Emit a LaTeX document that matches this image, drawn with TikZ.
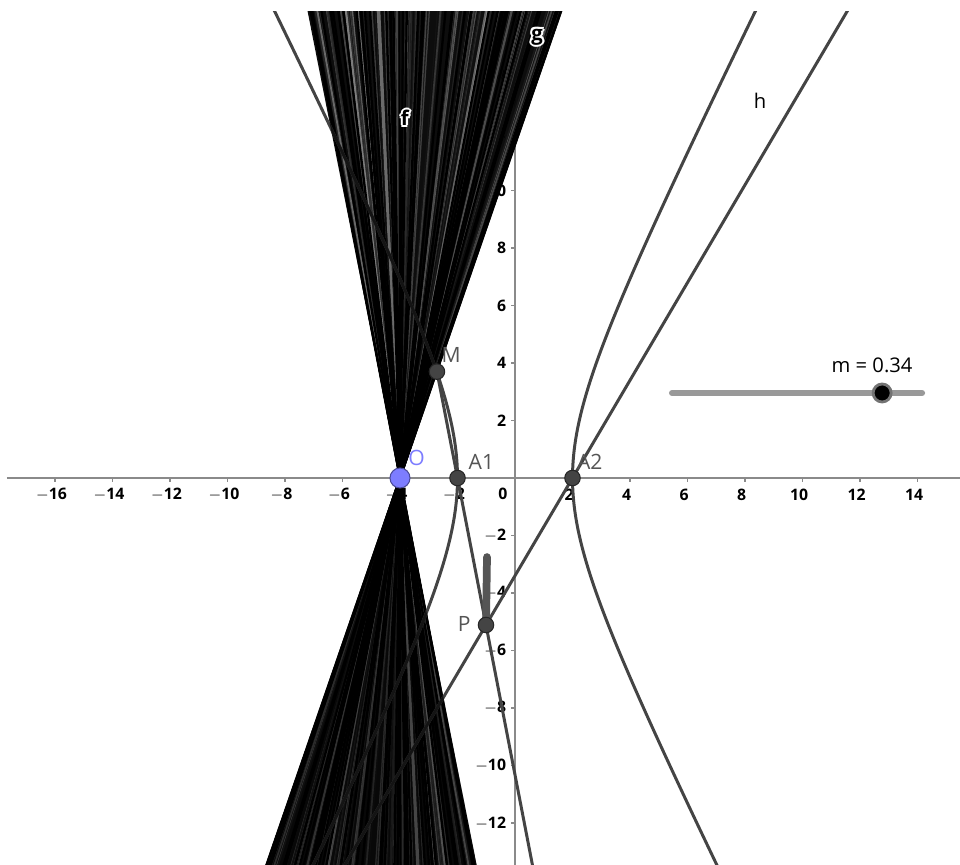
\documentclass[tikz,border=0pt]{standalone}
\usepackage{fontspec}
\setmainfont{Open Sans}
\usetikzlibrary{calc,arrows.meta}
\definecolor{curvecol}{HTML}{444444}
\definecolor{axiscol}{HTML}{8A8A8A}
\definecolor{ptblue}{HTML}{7D7DFF}
\definecolor{lblgrey}{HTML}{555555}
\definecolor{slidercol}{HTML}{999999}
\tikzset{
  curve/.style={draw=curvecol, line width=1.7pt},
  curvedark/.style={draw=black!92, line width=1.7pt},
  axisline/.style={draw=axiscol, line width=0.8pt},
  ticklbl/.style={font=\fontsize{9}{10}\selectfont\bfseries, text=black, inner sep=0pt},
  ptlbl/.style={font=\fontsize{12}{14}\selectfont, text=lblgrey, inner sep=0pt},
  pt/.style={circle, fill=curvecol, draw=black!85, line width=0.6pt, minimum size=0.31cm, inner sep=0pt},
  halolbl/.style={font=\fontsize{11.5}{13}\selectfont\bfseries, inner sep=0pt},
}
\newcommand\halolabel[3]{%
  \foreach \aa in {0,45,...,315}{\node[halolbl, text=white, shift={(\aa:1.2pt)}] at (#1) {#2};}
  \node[halolbl, text=black] (#3) at (#1) {#2};}
\newcommand\curveset[1]{%
  \draw[#1] plot[domain=-2.25:2.25, samples=140, variable=\t] ({2*cosh(\t)},{4*sinh(\t)});
  \draw[#1] plot[domain=-2.25:2.25, samples=140, variable=\t] ({-2*cosh(\t)},{4*sinh(\t)});
  \draw[#1] (Mc) -- ($(Mc)!3.2!(Pc)$);
  \draw[#1] ($(A2c)!-4!(Pc)$) -- ($(A2c)!4!(Pc)$);}
\begin{document}
\begin{tikzpicture}[x=0.575cm, y=0.575cm]
\useasboundingbox (-17.913,-13.426) rectangle (15.478,16.626);
\fill[white] (-17.913,-13.426) rectangle (15.478,16.626);
\clip (-17.913,-13.426) rectangle (15.478,16.21);

% named points
\coordinate (O) at (-4,0);
\coordinate (A1c) at (-2,0);
\coordinate (A2c) at (2,0);
\coordinate (Mc) at (-2.715,3.70);
\coordinate (Pc) at (-1.009,-5.113);

% axes
\coordinate (xl) at (-17.67,0);
\coordinate (xr) at (15.6,0);
\coordinate (yb) at (0,-13.6);
\coordinate (yt) at (0,16.1);
\draw[axisline] (xl) -- (xr);
\draw[axisline, -{Stealth[length=5pt,width=5pt]}] (yb) -- (yt);
\foreach \v in {-16,-14,...,-2,2,4,...,14}{
  \draw[axiscol, line width=0.7pt] (\v,0) -- (\v,-0.14);
  \node[ticklbl] at (\v-0.12,-0.58) {$\mathbf{\v}$};
}
\foreach \v in {-12,-10,...,-2,2,4,...,14}{
  \draw[axiscol, line width=0.7pt] (0,\v) -- (-0.14,\v);
  \node[ticklbl, anchor=east] at (-0.3,\v) {$\mathbf{\v}$};
}
\node[ticklbl] (zero) at (-0.42,-0.55) {$\mathbf{0}$};

% fan of lines through O
\fill[black, opacity=0.95] (O) -- +(70.85:30) -- +(101.2:30) -- cycle;
\fill[black, opacity=0.95] (O) -- +(250.85:30) -- +(281.2:30) -- cycle;
\pgfmathsetseed{11}
\foreach \i in {1,...,190}{
  \pgfmathsetmacro\ang{70.95+30.1*rnd}
  \pgfmathsetmacro\sh{int(5+50*rnd*rnd)}
  \pgfmathsetmacro\lw{0.3+1.0*rnd}
  \draw[line width=\lw pt, white!\sh!black] (O) ++(\ang:30) -- ++(\ang:-60);
}
\foreach \i in {1,...,45}{
  \pgfmathsetmacro\ang{70.95+30.1*rnd}
  \draw[line width=1.3pt, black] (O) ++(\ang:30) -- ++(\ang:-60);
}
% lower part of the fan a little darker
\fill[black, opacity=0.35] (O) -- +(250.85:30) -- +(281.2:30) -- cycle;

% curves: grey outside the fan, almost black inside it
\curveset{curve}
\begin{scope}
  \clip (O) -- +(70.85:30) -- +(101.2:30) -- cycle (O) -- +(250.85:30) -- +(281.2:30) -- cycle;
  \curveset{curvedark}
\end{scope}

% trace segment near P
\coordinate (tr) at (-0.974,-2.75);
\draw[draw=lblgrey, line width=4.4pt, line cap=round] (tr) -- (Pc);

% points
\node[pt] (A1) at (A1c) {};
\node[pt] (A2) at (A2c) {};
\node[pt] (M) at (Mc) {};
\node[pt] (P) at (Pc) {};
\node[circle, fill=ptblue, draw=ptblue!60!black, line width=0.6pt, minimum size=0.4cm, inner sep=0pt] (Opt) at (O) {};

% labels
\node[ptlbl, text=ptblue] (Olbl) at (-3.42,0.68) {O};
\node[ptlbl] (A1lbl) at (-1.17,0.56) {A1};
\node[ptlbl] (A2lbl) at (2.6,0.56) {A2};
\node[ptlbl] (Mlbl) at (-2.22,4.28) {M};
\node[ptlbl] (Plbl) at (-1.77,-5.08) {P};
\node[font=\fontsize{11.5}{13}\selectfont, inner sep=0pt] (hlbl) at (8.52,13.11) {h};
\halolabel{-3.83,12.52}{f}{flbl}
\halolabel{0.77,15.34}{g}{glbl}

% slider
\coordinate (s1) at (5.46,2.957);
\coordinate (s2) at (14.16,2.957);
\draw[draw=slidercol, line width=3.4pt, line cap=round] (s1) -- (s2);
\node[circle, fill=black, draw=black!55, line width=1.6pt, minimum size=0.36cm, inner sep=0pt] (knob) at (12.77,2.957) {};
\node[font=\fontsize{11.5}{13}\selectfont, inner sep=0pt] (mlbl) at (12.42,3.93) {m = 0.34};
\end{tikzpicture}
\end{document}
